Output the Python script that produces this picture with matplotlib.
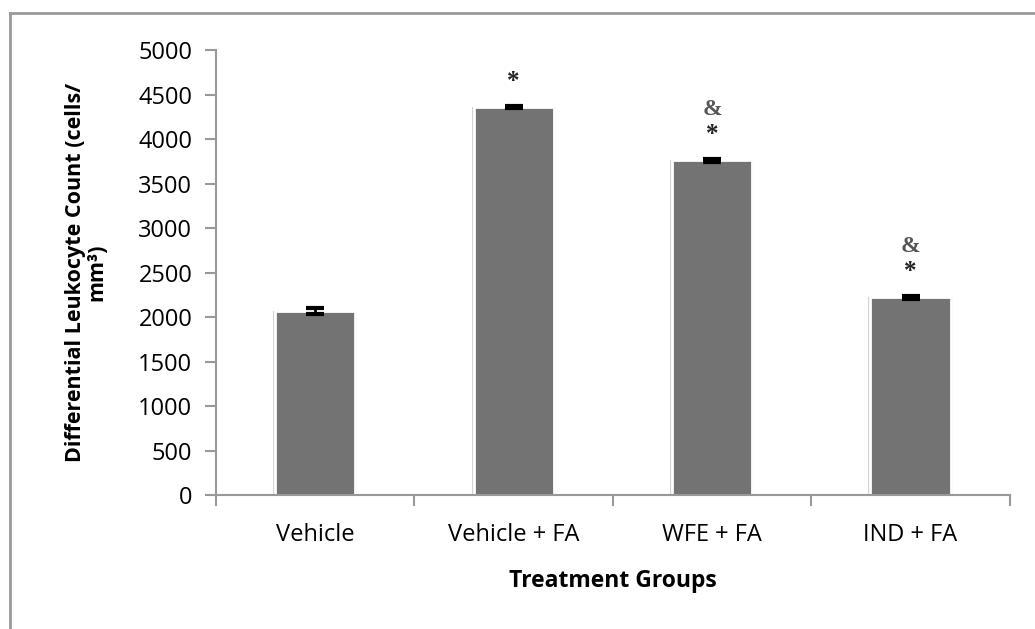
import numpy as np
import matplotlib.pyplot as plt
from matplotlib.lines import Line2D

groups = ['Vehicle', 'Vehicle + FA', 'WFE + FA', 'IND + FA']
means = [2070, 4360, 3760, 2220]
errs = [35, 15, 15, 20]
star = [False, True, True, True]
amp = [False, False, True, True]

plt.rcParams['font.family'] = ['Open Sans', 'DejaVu Sans']

fig = plt.figure(figsize=(10.35, 6.29), dpi=100)
ax = fig.add_axes([0.2087, 0.213, 0.767, 0.7075])

x = np.arange(len(groups))
# soft shadow behind bars, then the bars with white edge
ax.bar(x, means, width=0.425, color='#d4d4d4', zorder=1)
ax.bar(x, means, width=0.405, color='#737373', edgecolor='white', linewidth=2, zorder=2)
ax.errorbar(x, means, yerr=errs, fmt='none', ecolor='black', elinewidth=2,
            capsize=6.5, capthick=3, zorder=3)

for xi, m, s, a in zip(x, means, star, amp):
    if s:
        ax.text(xi, m + 290, '*', ha='center', va='center', fontsize=18,
                family='Liberation Serif', fontweight='bold', color='#222222')
    if a:
        ax.text(xi, m + 570, '&', ha='center', va='center', fontsize=17,
                family='Liberation Serif', fontweight='bold', color='#555555')

ax.set_xlim(-0.5, 3.5)
ax.set_ylim(0, 5000)
ax.set_yticks(np.arange(0, 5001, 500))
ax.set_xticks(x)
ax.set_xticklabels(groups, fontsize=17)
ax.set_xticks(np.arange(-0.5, 4, 1), minor=True)
ax.tick_params(axis='x', which='major', length=0, pad=20)
ax.tick_params(axis='x', which='minor', length=8, width=1.5, color='#999999')
ax.tick_params(axis='y', length=8, width=1.5, color='#999999', labelsize=17, pad=9)

for s in ['top', 'right']:
    ax.spines[s].set_visible(False)
for s in ['left', 'bottom']:
    ax.spines[s].set_color('#999999')
    ax.spines[s].set_linewidth(1.5)

ax.set_ylabel('Differential Leukocyte Count (cells/\nmm³)', fontsize=15.5,
              fontweight='bold', labelpad=22, linespacing=1.05)
ax.set_xlabel('Treatment Groups', fontsize=16.5, fontweight='bold', labelpad=16)

# outer chart frame (top and left edge visible)
fig.add_artist(Line2D([10 / 1035, 1], [1 - 13 / 629, 1 - 13 / 629],
                      transform=fig.transFigure, color='#999999', lw=2))
fig.add_artist(Line2D([10 / 1035, 10 / 1035], [0, 1 - 13 / 629],
                      transform=fig.transFigure, color='#999999', lw=2))

fig.savefig('out.png', dpi=100)
